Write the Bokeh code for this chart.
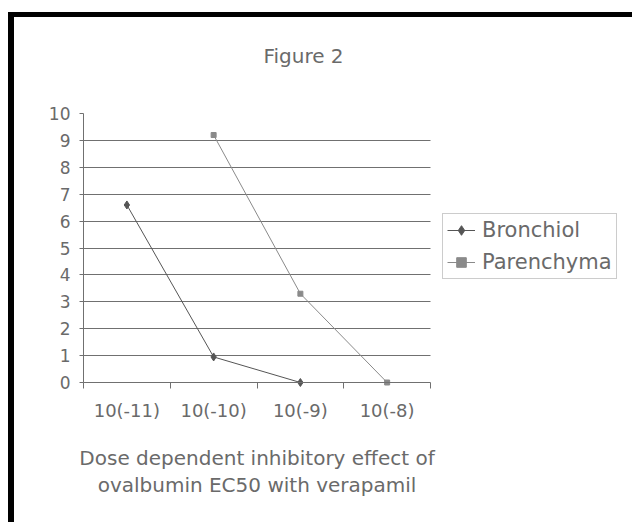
from bokeh.plotting import figure
from bokeh.models import Range1d, FixedTicker, Legend, LegendItem, Label
from bokeh.embed import file_html
from bokeh.resources import INLINE

categories = ["10(-11)", "10(-10)", "10(-9)", "10(-8)"]
bronchiol = [6.6, 0.95, 0.0, None]
parenchyma = [None, 9.2, 3.3, 0.0]
y_ticks = [0, 1, 2, 3, 4, 5, 6, 7, 8, 9, 10]
title_text = "Figure 2"
xlabel_lines = ["Dose dependent inhibitory effect of", "ovalbumin EC50 with verapamil"]

FONT = "DejaVu Sans"
TXT = "#6a6a6a"

def pts(vals):
    xs, ys = [], []
    for i, v in enumerate(vals):
        if v is not None:
            xs.append(i + 0.5)
            ys.append(v)
    return xs, ys

n = len(categories)
ymax = y_ticks[-1]
W, H = 624, 510
# pixel layout of the plotting area inside the canvas
left_px, right_px = 69, 416      # x = 0 and x = n
bottom_px, top_px = 365, 96      # y = 0 and y = ymax (from canvas top)
ux = (right_px - left_px) / n
uy = (bottom_px - top_px) / ymax

p = figure(width=W, height=H, output_backend="svg", toolbar_location=None,
           x_range=Range1d(-left_px / ux, (W - left_px) / ux),
           y_range=Range1d(-(H - bottom_px) / uy, bottom_px / uy),
           min_border=0, min_border_left=0, min_border_right=0,
           min_border_top=0, min_border_bottom=0)
p.margin = (12, 0, 0, 8)
p.styles = {"border-top": "5px solid black", "border-left": "6px solid black"}
p.outline_line_color = None
p.background_fill_color = "white"
p.border_fill_color = "white"

# x axis
centers = [i + 0.5 for i in range(n)]
bounds = [float(i) for i in range(n + 1)]
p.xaxis.fixed_location = 0
p.xaxis.bounds = (0, n)
p.xaxis.ticker = FixedTicker(ticks=centers, minor_ticks=bounds)
p.xaxis.major_label_overrides = {c: lab for c, lab in zip(centers, categories)}
p.xaxis.major_tick_out = 0
p.xaxis.major_tick_in = 0
p.xaxis.minor_tick_out = 6
p.xaxis.minor_tick_in = 0
p.xaxis.minor_tick_line_color = "#707070"
p.xaxis.axis_line_color = "#707070"
p.xaxis.major_label_text_font = FONT
p.xaxis.major_label_text_font_size = "18px"
p.xaxis.major_label_text_color = TXT
p.xaxis.major_label_standoff = 11

# y axis
p.yaxis.fixed_location = 0
p.yaxis.bounds = (0, ymax)
p.yaxis.ticker = FixedTicker(ticks=y_ticks, minor_ticks=[])
p.yaxis.major_tick_out = 4
p.yaxis.major_tick_in = 0
p.yaxis.major_tick_line_color = "#707070"
p.yaxis.axis_line_color = "#707070"
p.yaxis.major_label_text_font = FONT
p.yaxis.major_label_text_font_size = "17px"
p.yaxis.major_label_text_color = TXT
p.yaxis.major_label_standoff = 9

p.xgrid.visible = False
p.ygrid.ticker = FixedTicker(ticks=y_ticks[1:-1])
p.ygrid.cross_bounds = (0, n)
p.ygrid.grid_line_color = "#707070"
p.ygrid.grid_line_width = 1

bx, by = pts(bronchiol)
px, py = pts(parenchyma)
l1 = p.line(bx, by, line_color="#555555", line_width=1)
s1 = p.scatter(bx, by, marker="diamond", size=8, fill_color="#555555", line_color="#555555")
l2 = p.line(px, py, line_color="#8a8a8a", line_width=1)
s2 = p.scatter(px, py, marker="square", size=5, fill_color="#8a8a8a", line_color="#8a8a8a")

# title and axis title as text in screen units (from canvas bottom-left)
p.add_layout(Label(x=289, y=H - 38, x_units="screen", y_units="screen", text=title_text,
                   text_font=FONT, text_font_size="20px", text_color=TXT,
                   text_align="center", text_baseline="middle"))
for k, line in enumerate(xlabel_lines):
    p.add_layout(Label(x=(left_px + right_px) / 2, y=H - 440 - 27 * k,
                       x_units="screen", y_units="screen", text=line,
                       text_font=FONT, text_font_size="20px", text_color=TXT,
                       text_align="center", text_baseline="middle"))

legend = Legend(items=[LegendItem(label="Bronchiol", renderers=[l1, s1]),
                       LegendItem(label="Parenchyma", renderers=[l2, s2])],
                location=(428, 248))
legend.label_text_font = FONT
legend.label_text_font_size = "21px"
legend.label_text_color = TXT
legend.border_line_color = "#999999"
legend.border_line_width = 1
legend.padding = 4
legend.margin = 0
legend.spacing = 8
legend.glyph_width = 28
legend.glyph_height = 24
legend.label_height = 24
legend.label_standoff = 7
legend.background_fill_alpha = 1
p.add_layout(legend, "center")

open("out.html", "w").write(file_html(p, INLINE))
